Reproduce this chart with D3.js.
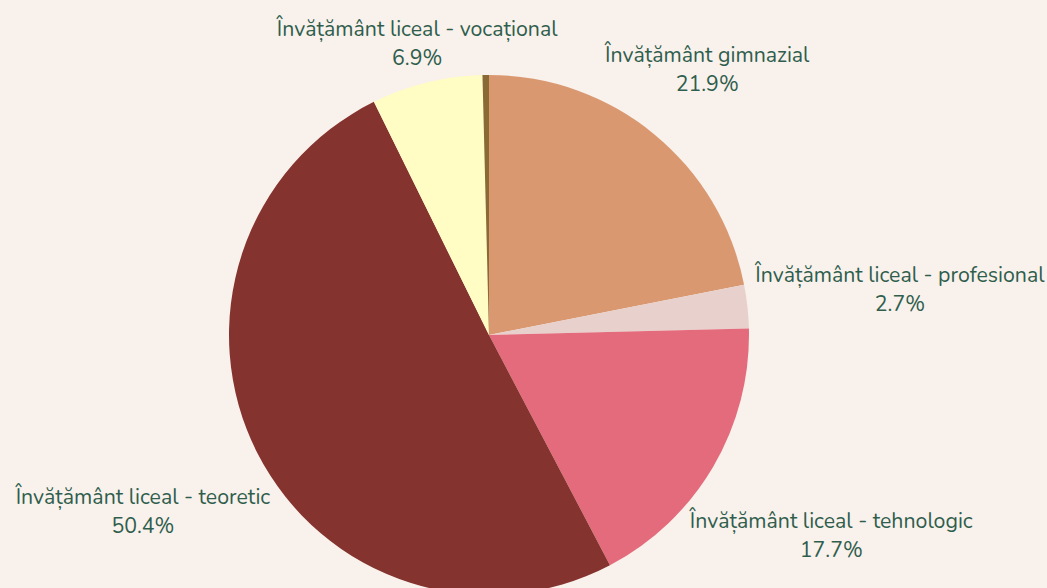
<!DOCTYPE html>
<html>
<head>
<meta charset="utf-8">
<script src="https://d3js.org/d3.v7.min.js"></script>
<style>
  html, body { margin: 0; padding: 0; background: #f9f1ec; overflow: hidden; }
  .lbl { font-family: "Nunito", "Lato", "Open Sans", sans-serif; font-size: 21.3px; fill: #2f5e4c; }
</style>
</head>
<body>
<div id="chart"></div>
<script>
// data
var categories = [
  "Învățământ gimnazial",
  "Învățământ liceal - profesional",
  "Învățământ liceal - tehnologic",
  "Învățământ liceal - teoretic",
  "Învățământ liceal - vocațional",
  "Altele"
];
var shares = [21.9, 2.7, 17.7, 50.4, 6.9, 0.4];
var colors = ["#d99870", "#e8d1cc", "#e36b7b", "#85332e", "#fffcc4", "#8a6a34"];
var showLabel = [true, true, true, true, true, false];

var width = 1047, height = 588;
var cx = 489, cy = 335, radius = 260, clear = 267;

var svg = d3.select("#chart")
  .append("svg")
    .attr("width", width)
    .attr("height", height);

var data = categories.map(function(c, i) {
  return {name: c, value: shares[i], color: colors[i], show: showLabel[i]};
});

var pie = d3.pie()
  .sort(null)
  .value(function(d) { return d.value; });

var arc = d3.arc()
  .innerRadius(0)
  .outerRadius(radius);

var arcs = pie(data);

var g = svg.append("g")
  .attr("transform", "translate(" + cx + "," + cy + ")");

g.selectAll("path")
  .data(arcs)
  .enter()
  .append("path")
    .attr("d", arc)
    .style("fill", function(d) { return d.data.color; });

// labels: pushed outward along the slice mid-angle until the box clears the pie
var labels = g.selectAll("text.lbl")
  .data(arcs.filter(function(d) { return d.data.show; }))
  .enter()
  .append("text")
    .attr("class", "lbl")
    .attr("text-anchor", "middle");

labels.append("tspan")
  .attr("x", 0)
  .attr("dy", 0)
  .text(function(d) { return d.data.name; });
labels.append("tspan")
  .attr("x", 0)
  .attr("dy", 29.5)
  .text(function(d) { return d3.format(".1f")(d.data.value) + "%"; });

labels.each(function(d) {
  var el = d3.select(this);
  var bb = this.getBBox();
  var a = (d.startAngle + d.endAngle) / 2;
  var dx = Math.sin(a), dy = -Math.cos(a);
  var bcx = bb.x + bb.width / 2, bcy = bb.y + bb.height / 2;
  var hw = bb.width / 2 - 1, hh = bb.height / 2 - 5;
  function dist(t) {
    var px = t * dx, py = t * dy;
    var nx = Math.max(px - hw, Math.min(0, px + hw));
    var ny = Math.max(py - hh, Math.min(0, py + hh));
    return Math.sqrt(nx * nx + ny * ny);
  }
  var lo = 0, hi = 800;
  for (var k = 0; k < 40; k++) {
    var mid = (lo + hi) / 2;
    if (dist(mid) < clear) lo = mid; else hi = mid;
  }
  el.attr("transform", "translate(" + (hi * dx - bcx) + "," + (hi * dy - bcy) + ")");
});
</script>
</body>
</html>
